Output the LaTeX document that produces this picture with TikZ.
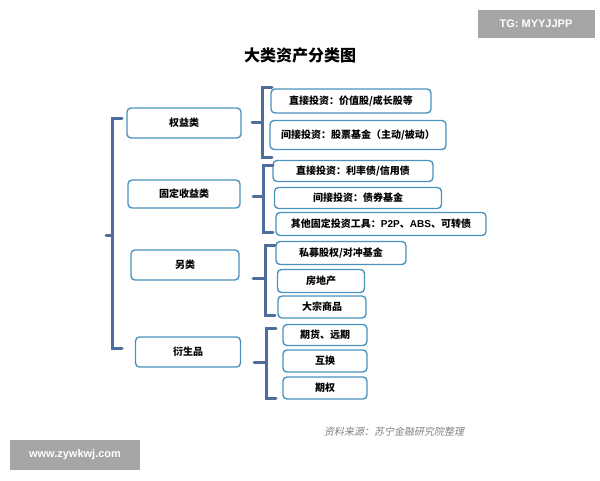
\documentclass[tikz,border=0pt]{standalone}
\usepackage{fontspec}
\setmainfont{Noto Sans CJK SC}
\newfontfamily\latinfont{Liberation Sans}
\usetikzlibrary{positioning}
\definecolor{boxline}{HTML}{4A93BE}
\definecolor{brace}{HTML}{4E6C9C}
\tikzset{
    catbox/.style = {draw = boxline, line width = 1.4pt, rounded corners = 4pt, fill = white,
                     font = \fontsize{10}{12}\selectfont\bfseries, inner sep = 0pt},
    leafbox/.style = {catbox},
    bracket/.style = {draw = brace, line width = 3pt, line cap = round}
}
\begin{document}
\begin{tikzpicture}[x = 1pt, y = -1pt]
    \useasboundingbox (0,0) rectangle (600,480);
    \node[font = \fontsize{16}{18}\selectfont\bfseries] (title) at (300,55) {大类资产分类图};
    % first level
    \node[catbox, minimum width = 114pt, minimum height = 30pt] (equity) at (184,123) {权益类};
    \node[catbox, minimum width = 112pt, minimum height = 28pt] (fixed) at (184,194) {固定收益类};
    \node[catbox, minimum width = 108pt, minimum height = 30pt] (alt) at (185,265) {另类};
    \node[catbox, minimum width = 105pt, minimum height = 30pt] (deriv) at (188,352) {衍生品};
    % second level
    \node[leafbox, minimum width = 160pt, minimum height = 24pt] (eqa) at (351,101) {直接投资：价值股/成长股等};
    \node[leafbox, minimum width = 176pt, minimum height = 29pt] (eqb) at (358,135) {间接投资：股票基金（主动/被动）};
    \node[leafbox, minimum width = 160pt, minimum height = 21pt] (fia) at (353,171) {直接投资：利率债/信用债};
    \node[leafbox, minimum width = 167pt, minimum height = 21pt] (fib) at (358,198) {间接投资：债券基金};
    \node[leafbox, minimum width = 210pt, minimum height = 23pt] (fic) at (381,224) {其他固定投资工具：{\latinfont P2P}、{\latinfont ABS}、可转债};
    \node[leafbox, minimum width = 130pt, minimum height = 23pt] (alta) at (341,253) {私募股权/对冲基金};
    \node[leafbox, minimum width = 87pt, minimum height = 23pt] (altb) at (321,281) {房地产};
    \node[leafbox, minimum width = 88pt, minimum height = 22pt] (altc) at (322,307) {大宗商品};
    \node[leafbox, minimum width = 84pt, minimum height = 21pt] (dva) at (325,335) {期货、远期};
    \node[leafbox, minimum width = 84pt, minimum height = 22pt] (dvb) at (325,361) {互换};
    \node[leafbox, minimum width = 84pt, minimum height = 22pt] (dvc) at (325,388) {期权};
    % brackets
    \draw[bracket] (122,118) -- (112,118) -- (112,348) -- (122,348);
    \draw[bracket] (112,235) -- (106,235);
    \draw[bracket] (272,87) -- (262,87) -- (262,157) -- (272,157);
    \draw[bracket] (262,122) -- (252,122);
    \draw[bracket] (273,165) -- (263,165) -- (263,232) -- (273,232);
    \draw[bracket] (263,196) -- (253,196);
    \draw[bracket] (275,245) -- (265,245) -- (265,315) -- (275,315);
    \draw[bracket] (265,278) -- (253,278);
    \draw[bracket] (276,328) -- (266,328) -- (266,398) -- (276,398);
    \draw[bracket] (266,362) -- (254,362);
    % source and marks
    \node[font = \fontsize{10}{12}\selectfont, text = gray, xslant = 0.2] (src) at (395,432) {资料来源：苏宁金融研究院整理};
    \node[fill = gray!70, text = white, font = \latinfont\bfseries\fontsize{11}{12}\selectfont, minimum width = 117pt, minimum height = 28pt] (tg) at (536,24) {TG: MYYJJPP};
    \node[fill = gray!70, text = white, font = \latinfont\bfseries\fontsize{11}{12}\selectfont, minimum width = 130pt, minimum height = 30pt] (www) at (75,455) {www.zywkwj.com};
\end{tikzpicture}
\end{document}
